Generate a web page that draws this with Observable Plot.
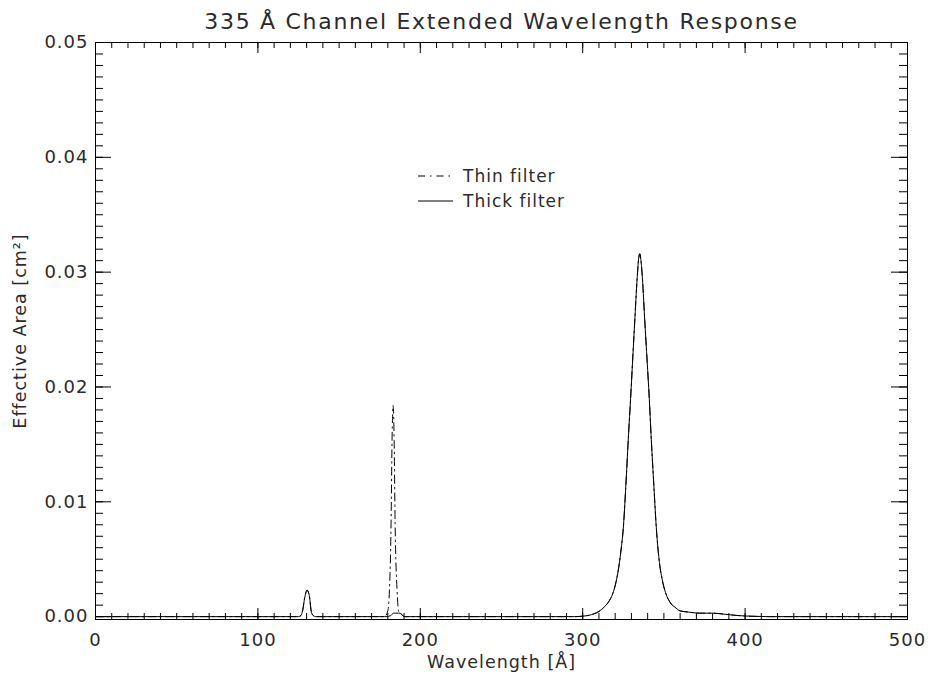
<!DOCTYPE html>
<html>
<head>
<meta charset="utf-8">
<script src="https://cdn.jsdelivr.net/npm/d3@7"></script>
<script src="https://cdn.jsdelivr.net/npm/@observablehq/plot@0.6"></script>
<style>
  html, body { margin: 0; padding: 0; background: #fff; }
  #chart { position: relative; width: 933px; height: 680px; }
</style>
</head>
<body>
<div id="chart"></div>
<script>
// ---- data ----
const wavelength = [0, 125, 126.5, 127.5, 128.9, 130.3, 131.8, 132.8, 134, 135.5,
  178, 180, 181, 182, 182.6, 183.3, 183.9, 184.5, 185.7, 186.6, 187.5, 188.5, 190,
  295, 300, 304, 307, 310, 313, 316, 318.5, 320.5, 322.2, 323.6, 325, 326.6, 328.2, 329.5, 330.7, 332, 333.5, 334.4,
  335.1, 335.8, 336.8, 338.2, 339.7, 341, 342.1, 343.7, 345.4, 347, 349, 351, 354, 357, 360,
  365, 372, 380, 388, 395, 405, 415, 500];

const thinFilter = [0, 0, 0.0001, 0.0005, 0.0017, 0.0023, 0.0017, 0.0005, 0.0001, 0,
  0, 0.0005, 0.0023, 0.0081, 0.0153, 0.0184, 0.0153, 0.0081, 0.0023, 0.0005, 0.0003, 0.0002, 0,
  0, 0.00004, 0.00012, 0.00025, 0.00045, 0.0008, 0.0013, 0.0020, 0.0030, 0.0043, 0.0058, 0.0077, 0.0115, 0.0158, 0.0190, 0.0222, 0.0256, 0.0294, 0.0311,
  0.0316, 0.0311, 0.0294, 0.0258, 0.0222, 0.0190, 0.0158, 0.0117, 0.0076, 0.0050, 0.0032, 0.0021, 0.0012, 0.0008, 0.0005,
  0.0004, 0.0003, 0.0003, 0.0002, 0.0001, 0.00003, 0, 0];

const thickFilter = [0, 0, 0.0001, 0.0005, 0.0017, 0.0023, 0.0017, 0.0005, 0.0001, 0,
  0, 0, 0.00005, 0.0001, 0.0002, 0.0003, 0.0003, 0.0003, 0.0003, 0.0003, 0.0003, 0.0002, 0,
  0, 0.00004, 0.00012, 0.00025, 0.00045, 0.0008, 0.0013, 0.0020, 0.0030, 0.0043, 0.0058, 0.0077, 0.0115, 0.0158, 0.0190, 0.0222, 0.0256, 0.0294, 0.0311,
  0.0316, 0.0311, 0.0294, 0.0258, 0.0222, 0.0190, 0.0158, 0.0117, 0.0076, 0.0050, 0.0032, 0.0021, 0.0012, 0.0008, 0.0005,
  0.0004, 0.0003, 0.0003, 0.0002, 0.0001, 0.00003, 0, 0];

const xMajorTicks = [0, 100, 200, 300, 400, 500];
const yMajorTicks = [0.00, 0.01, 0.02, 0.03, 0.04, 0.05];
const xMinorTicks = d3.range(0, 501, 10);
const yMinorTicks = d3.range(0, 51, 1).map(d => d / 1000);

const titleText = "335 Å Channel Extended Wavelength Response";
const xLabel = "Wavelength [Å]";
const yLabel = "Effective Area [cm²]";
const legendItems = [
  {label: "Thin filter", dash: "7,5,1.5,5"},
  {label: "Thick filter", dash: null}
];

const thinData = wavelength.map((w, i) => ({w, v: thinFilter[i]}));
const thickData = wavelength.map((w, i) => ({w, v: thickFilter[i]}));

const W = 933, H = 680;
const mL = 95, mR = 26, mT = 42, mB = 61;
const iW = W - mL - mR, iH = H - mT - mB;
const font = "'DejaVu Sans', sans-serif";
const ink = "#2a2a2a";

const chart = Plot.plot({
  width: W,
  height: H,
  marginLeft: mL,
  marginRight: mR,
  marginTop: mT,
  marginBottom: mB,
  x: {domain: [0, 500]},
  y: {domain: [-0.00025, 0.05]},
  style: {fontFamily: font, letterSpacing: "1px", background: "#fff", color: ink},
  marks: [
    Plot.line(thinData, {x: "w", y: "v", stroke: "black", strokeWidth: 1, strokeDasharray: "8,4,1.5,4", curve: "monotone-x"}),
    Plot.line(thickData, {x: "w", y: "v", stroke: "black", strokeWidth: 1, curve: "monotone-x"}),
    Plot.frame({stroke: "black", strokeWidth: 1}),
    // inward tick marks on all four sides
    Plot.ruleX(xMinorTicks, {x: d => d, insetTop: iH - 6, stroke: "black"}),
    Plot.ruleX(xMajorTicks, {x: d => d, insetTop: iH - 11, stroke: "black"}),
    Plot.ruleX(xMinorTicks, {x: d => d, insetBottom: iH - 6, stroke: "black"}),
    Plot.ruleX(xMajorTicks, {x: d => d, insetBottom: iH - 11, stroke: "black"}),
    Plot.ruleY(yMinorTicks, {y: d => d, insetRight: iW - 8, stroke: "black"}),
    Plot.ruleY(yMajorTicks, {y: d => d, insetRight: iW - 16, stroke: "black"}),
    Plot.ruleY(yMinorTicks, {y: d => d, insetLeft: iW - 8, stroke: "black"}),
    Plot.ruleY(yMajorTicks, {y: d => d, insetLeft: iW - 16, stroke: "black"}),
    Plot.axisX({ticks: xMajorTicks, tickSize: 0, tickPadding: 14, tickFormat: d3.format("d"), fontSize: 18, fill: ink, label: null}),
    Plot.axisY({ticks: yMajorTicks, tickSize: 0, tickPadding: 7, tickFormat: d3.format(".2f"), fontSize: 18, fill: ink, label: null}),
    Plot.text([titleText], {frameAnchor: "top", dy: -21, lineAnchor: "middle", textAnchor: "middle", fontSize: 22, fill: ink, text: d => d}),
    Plot.text([xLabel], {frameAnchor: "bottom", dy: 43, lineAnchor: "middle", textAnchor: "middle", fontSize: 17.5, fill: ink, text: d => d}),
    Plot.text([yLabel], {frameAnchor: "left", dx: -75, rotate: -90, lineAnchor: "middle", textAnchor: "middle", fontSize: 17.5, fill: ink, text: d => d})
  ]
});
document.getElementById("chart").appendChild(chart);

// title letter spacing (wider, like the reference)
d3.select(chart).selectAll("text").filter(function() { return this.textContent === titleText; })
  .attr("letter-spacing", "1.7px");

// legend (drawn inside the plot area, upper middle)
const svg = d3.select(chart);
const lg = svg.append("g").attr("font-family", font).attr("font-size", 17)
  .attr("letter-spacing", "1px").attr("text-anchor", "start");
legendItems.forEach((item, i) => {
  const y = 176 + i * 25;
  lg.append("line").attr("x1", 418).attr("x2", 453).attr("y1", y).attr("y2", y)
    .attr("stroke", "black").attr("stroke-width", 1)
    .attr("stroke-dasharray", item.dash);
  lg.append("text").attr("x", 463).attr("y", y).attr("dy", "0.35em")
    .attr("text-anchor", "start").attr("fill", ink).text(item.label);
});
</script>
</body>
</html>
